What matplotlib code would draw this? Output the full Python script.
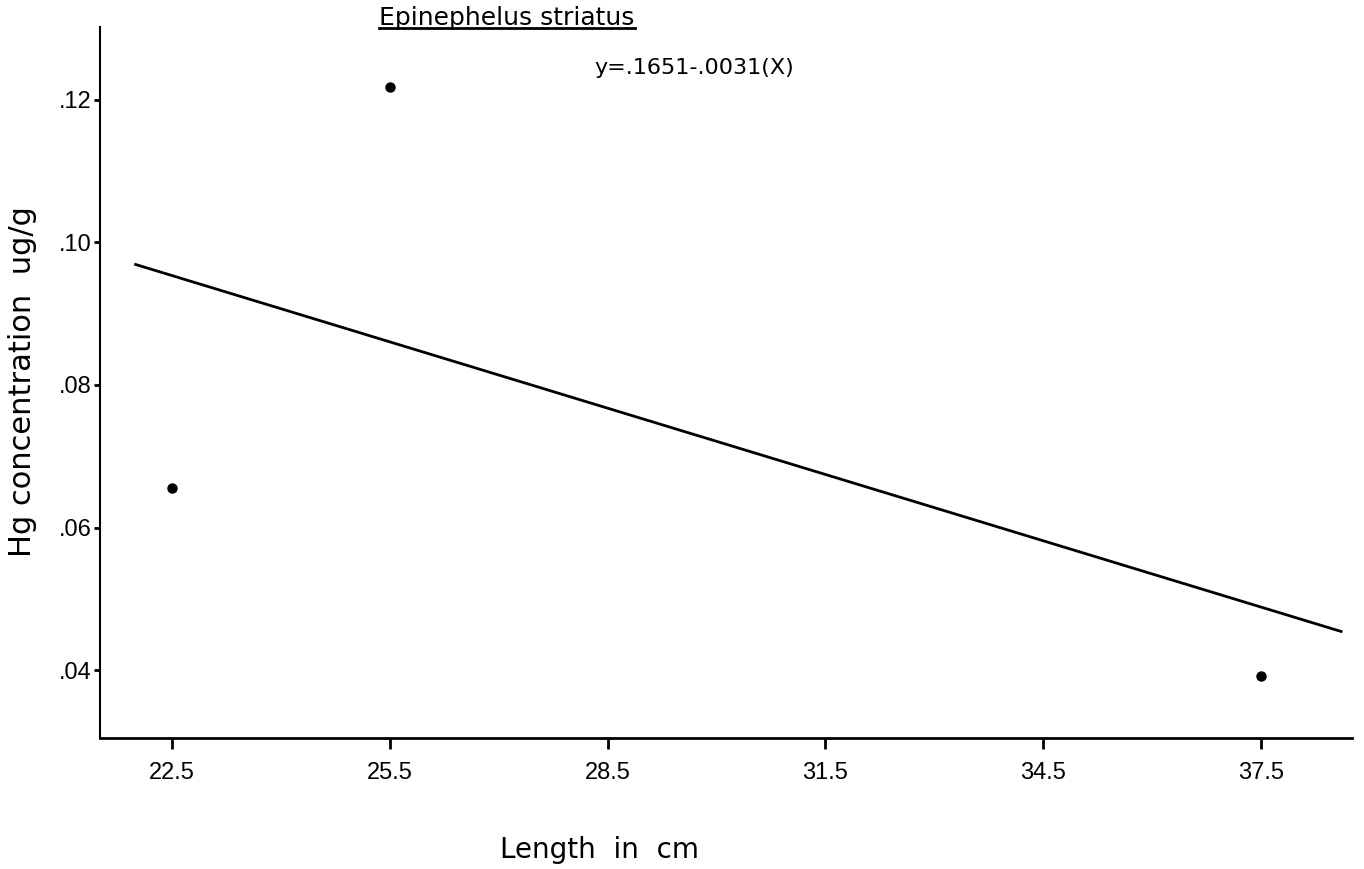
import numpy as np
import matplotlib
matplotlib.use("Agg")
import matplotlib.pyplot as plt
from matplotlib.lines import Line2D

# data
lengths = [22.5, 25.5, 37.5]
hg = [0.0655, 0.1218, 0.0392]
intercept = 0.1651
slope = -0.0031
fit_range = [22.0, 38.6]

xticks = [22.5, 25.5, 28.5, 31.5, 34.5, 37.5]
xticklabels = ['22.5', '25.5', '28.5', '31.5', '34.5', '37.5']
yticks = [0.04, 0.06, 0.08, 0.10, 0.12]
yticklabels = ['.04', '.06', '.08', '.10', '.12']

title = 'Epinephelus striatus'
equation = 'y=.1651-.0031(X)'

W, H = 1364, 869
fig = plt.figure(figsize=(W / 100, H / 100), dpi=100)
ax = fig.add_axes([100 / W, 1 - 738 / H, (1352 - 100) / W, (738 - 27) / H])

ax.plot(lengths, hg, 'o', color='black', markersize=6.5)
fx = np.array(fit_range)
ax.plot(fx, intercept + slope * fx, color='black', lw=2)

ax.set_xlim(21.51, 38.75)
ax.set_ylim(0.0305, 0.1302)
ax.set_xticks(xticks)
ax.set_xticklabels(xticklabels, family='Liberation Sans', fontsize=17)
ax.set_yticks(yticks)
ax.set_yticklabels(yticklabels, family='Liberation Sans', fontsize=17)
ax.tick_params(axis='x', direction='out', length=8, width=2, pad=9)
ax.tick_params(axis='y', direction='out', length=4, width=2, pad=2)

for s in ['top', 'right']:
    ax.spines[s].set_visible(False)
ax.spines['left'].set_linewidth(1.5)
ax.spines['bottom'].set_linewidth(2)

fig.text(23 / W, 1 - 382 / H, 'Hg concentration  ug/g', rotation=90,
         ha='center', va='center', fontsize=22, family='DejaVu Sans')
fig.text(600 / W, 1 - 850 / H, 'Length  in  cm', ha='center', va='center',
         fontsize=20, family='DejaVu Sans')

t = fig.text(507 / W, 1 - 18 / H, title, ha='center', va='center',
             fontsize=18, family='DejaVu Sans')
fig.text(694 / W, 1 - 68 / H, equation, ha='center', va='center',
         fontsize=16, family='DejaVu Sans')

# underline the species name
fig.canvas.draw()
bb = t.get_window_extent().transformed(fig.transFigure.inverted())
fig.add_artist(Line2D([bb.x0, bb.x1], [bb.y0 + 0.002, bb.y0 + 0.002],
                      transform=fig.transFigure, color='black', lw=2))

fig.savefig('out.png', dpi=100)
